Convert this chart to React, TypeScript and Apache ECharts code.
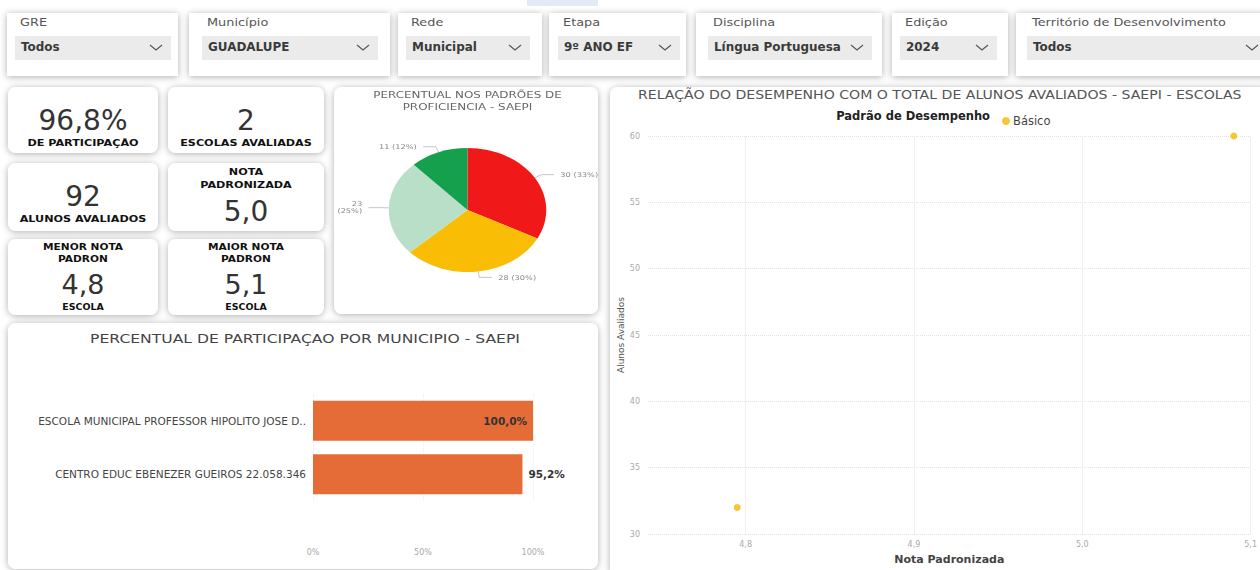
import React, { useEffect, useRef } from 'react';
import * as echarts from 'echarts';

// ---------- DATA ----------
const filterLabels = ['GRE', 'Município', 'Rede', 'Etapa', 'Disciplina', 'Edição', 'Território de Desenvolvimento'];
const filterValues = ['Todos', 'GUADALUPE', 'Municipal', '9º ANO EF', 'Língua Portuguesa', '2024', 'Todos'];

const kpiValues = ['96,8%', '2', '92', '5,0', '4,8', '5,1'];
const kpiHeaders = [[], [], [], ['NOTA', 'PADRONIZADA'], ['MENOR NOTA', 'PADRON'], ['MAIOR NOTA', 'PADRON']];
const kpiCaptions = ['DE PARTICIPAÇÃO', 'ESCOLAS AVALIADAS', 'ALUNOS AVALIADOS', '', 'ESCOLA', 'ESCOLA'];

const padroesNomes = ['Abaixo do Básico', 'Básico', 'Proficiente', 'Avançado'];
const padroesAlunos = [30, 28, 23, 11];
const padroesCores = ['#F01818', '#F9BD06', '#BADFC8', '#14A04C'];

const escolas = ['ESCOLA MUNICIPAL PROFESSOR HIPOLITO JOSE D..', 'CENTRO EDUC EBENEZER GUEIROS 22.058.346'];
const participacao = [100.0, 95.2];

const notaPadronizada = [4.795, 5.09];
const alunosAvaliados = [32, 60];
const notaTicks = [4.8, 4.9, 5.0, 5.1];

// ---------- LAYOUT (styles) ----------
const FONT = 'DejaVu Sans';
const filterLayout = [
  { x: 7, w: 171, bx: 15, bw: 156 },
  { x: 189, w: 201, bx: 202, bw: 176 },
  { x: 398, w: 144, bx: 406, bw: 124 },
  { x: 549, w: 137, bx: 558, bw: 122 },
  { x: 696, w: 186, bx: 708, bw: 164 },
  { x: 892, w: 116, bx: 900, bw: 97 },
  { x: 1016, w: 252, bx: 1027, bw: 240 },
];
const kpiLayout = [
  { x: 8, y: 87, w: 150, h: 66 },
  { x: 168, y: 87, w: 156, h: 66 },
  { x: 8, y: 163, w: 150, h: 68 },
  { x: 168, y: 163, w: 156, h: 68 },
  { x: 8, y: 239, w: 150, h: 76 },
  { x: 168, y: 239, w: 156, h: 76 },
];
const PIE_SCALE = 1.27;
const PIE_W = 300;
const PIE_CX = 150;

const shadowCard = (x: number, y: number, w: number, h: number, r = 8) => ({
  type: 'rect',
  shape: { x, y, width: w, height: h, r },
  style: { fill: '#ffffff', shadowBlur: 7, shadowColor: 'rgba(0,0,0,0.32)', shadowOffsetY: 1 },
  z: 0,
});
const txt = (
  text: string,
  x: number,
  y: number,
  size: number,
  fill: string,
  weight: any = 'normal',
  align = 'left',
  sx = 1
) => ({
  type: 'text',
  x,
  y,
  z: 5,
  scaleX: sx,
  style: { text, fill, fontSize: size, fontFamily: FONT, fontWeight: weight, align, verticalAlign: 'middle' },
});

function buildGraphics() {
  const g: any[] = [];
  g.push({ type: 'rect', shape: { x: 527, y: 0, width: 71, height: 6 }, style: { fill: '#E4EAF4' }, z: 0 });
  filterLayout.forEach((f, i) => {
    g.push(shadowCard(f.x, 13, f.w, 63, 0));
    g.push({ type: 'rect', shape: { x: f.bx, y: 36, width: f.bw, height: 24 }, style: { fill: '#EBEBEB' }, z: 1 });
    g.push(txt(filterLabels[i], f.bx + 5, 22, 11, '#555', 'normal', 'left', 1.17));
    g.push(txt(filterValues[i], f.bx + 6, 47, 11.5, '#3a3a3a', 'bold', 'left', 1.04));
    const cx = f.bx + f.bw - 15;
    g.push({
      type: 'polyline',
      z: 5,
      shape: { points: [[cx - 6, 45], [cx, 50], [cx + 6, 45]] },
      style: { stroke: '#555', lineWidth: 1.1, fill: 'none' },
    });
  });
  kpiLayout.forEach((k, i) => {
    g.push(shadowCard(k.x, k.y, k.w, k.h));
    const cx = k.x + k.w / 2;
    if (i < 3) {
      g.push(txt(kpiValues[i], cx, k.y + 33, 28, '#333', 'normal', 'center'));
      g.push(txt(kpiCaptions[i], cx, k.y + 55, 9.5, '#111', 'bold', 'center', 1.18));
    } else if (i === 3) {
      g.push(txt(kpiHeaders[i][0], cx, k.y + 8, 9.5, '#111', 'bold', 'center', 1.18));
      g.push(txt(kpiHeaders[i][1], cx, k.y + 21, 9.5, '#111', 'bold', 'center', 1.18));
      g.push(txt(kpiValues[i], cx, k.y + 48, 28, '#333', 'normal', 'center'));
    } else {
      g.push(txt(kpiHeaders[i][0], cx, k.y + 8, 9, '#111', 'bold', 'center', 1.18));
      g.push(txt(kpiHeaders[i][1], cx, k.y + 20, 9, '#111', 'bold', 'center', 1.18));
      g.push(txt(kpiValues[i], cx, k.y + 45, 27, '#333', 'normal', 'center'));
      g.push(txt(kpiCaptions[i], cx, k.y + 68, 8, '#111', 'bold', 'center', 1.18));
    }
  });
  // pie card
  g.push(shadowCard(334, 87, 264, 227));
  // bar card
  g.push(shadowCard(8, 323, 590, 246));
  g.push(txt('PERCENTUAL DE PARTICIPAÇAO POR MUNICIPIO - SAEPI', 305, 338, 13, '#454545', 'normal', 'center', 1.2));
  // scatter card
  g.push(shadowCard(610, 87, 660, 490));
  g.push(
    txt('RELAÇÃO DO DESEMPENHO COM O TOTAL DE ALUNOS AVALIADOS - SAEPI - ESCOLAS', 638, 95, 12, '#555', 'normal', 'left', 1.175)
  );
  g.push(txt('Padrão de Desempenho', 990, 116, 11.5, '#222', 'bold', 'right'));
  return g;
}

const fmtComma = (v: number, d = 1) => v.toFixed(d).replace('.', ',');

export default function App() {
  const mainRef = useRef<HTMLDivElement>(null);
  const pieRef = useRef<HTMLDivElement>(null);

  useEffect(() => {
    if (!mainRef.current || !pieRef.current) return;
    document.body.style.margin = '0';
    const chart = echarts.init(mainRef.current, undefined, { renderer: 'svg' });
    chart.setOption({
      animation: false,
      backgroundColor: '#ffffff',
      textStyle: { fontFamily: FONT },
      graphic: { elements: buildGraphics() },
      legend: {
        data: ['Básico'],
        left: 997,
        top: 110,
        icon: 'circle',
        itemWidth: 8,
        itemHeight: 8,
        itemGap: 4,
        textStyle: { fontSize: 11.5, color: '#444', fontFamily: FONT, padding: [0, 0, 0, -2] },
      },
      grid: [
        { left: 313, width: 220, top: 394, height: 107 },
        { left: 648, width: 609, top: 136, height: 400 },
      ],
      xAxis: [
        {
          gridIndex: 0,
          type: 'value',
          min: 0,
          max: 100,
          interval: 50,
          axisLabel: { formatter: '{value}%', margin: 47, fontSize: 8, color: '#aaa', fontFamily: FONT },
          axisLine: { show: false },
          axisTick: { show: false },
          splitLine: { lineStyle: { color: '#ececec', type: 'dotted' } },
        },
        {
          gridIndex: 1,
          type: 'value',
          min: 4.742,
          max: 5.1,
          axisLabel: {
            customValues: notaTicks,
            formatter: (v: number) => fmtComma(v),
            margin: 6,
            fontSize: 8,
            color: '#aaa',
            fontFamily: FONT,
          },
          axisTick: { show: false, customValues: notaTicks },
          axisLine: { show: false },
          splitLine: { show: true, lineStyle: { color: '#efefef' } },
          name: 'Nota Padronizada',
          nameLocation: 'middle',
          nameGap: 20,
          nameTextStyle: { fontSize: 11, color: '#444', fontWeight: 'bold', fontFamily: FONT },
        },
      ],
      yAxis: [
        {
          gridIndex: 0,
          type: 'category',
          data: escolas,
          inverse: true,
          axisLabel: { fontSize: 10.5, color: '#444', margin: 7, fontFamily: FONT },
          axisLine: { show: false },
          axisTick: { show: false },
        },
        {
          gridIndex: 1,
          type: 'value',
          min: 30,
          max: 60,
          interval: 5,
          axisLabel: { fontSize: 8, color: '#aaa', margin: 8, fontFamily: FONT },
          axisLine: { show: false },
          axisTick: { show: false },
          splitLine: { lineStyle: { color: '#e2e2e2', type: 'dotted' } },
          name: 'Alunos Avaliados',
          nameLocation: 'middle',
          nameGap: 20,
          nameRotate: 90,
          nameTextStyle: { fontSize: 9, color: '#555', fontFamily: FONT },
        },
      ],
      series: [
        {
          type: 'bar',
          name: 'Participação',
          xAxisIndex: 0,
          yAxisIndex: 0,
          barWidth: 40,
          itemStyle: { color: '#E66C37' },
          data: participacao.map((v) => ({ value: v, label: { position: v >= 98 ? 'insideRight' : 'right' } })),
          label: {
            show: true,
            formatter: (p: any) => fmtComma(p.value) + '%',
            fontSize: 10.5,
            fontWeight: 'bold',
            color: '#333',
            fontFamily: FONT,
            distance: 6,
          },
        },
        {
          type: 'scatter',
          name: 'Básico',
          xAxisIndex: 1,
          yAxisIndex: 1,
          symbolSize: 7,
          itemStyle: { color: '#F5B800' },
          data: notaPadronizada.map((x, i) => [x, alunosAvaliados[i]]),
        },
      ],
    });

    const pie = echarts.init(pieRef.current, undefined, { renderer: 'svg' });
    pie.setOption({
      animation: false,
      graphic: {
        elements: [
          txt('PERCENTUAL NOS PADRÕES DE', PIE_CX, 9, 9.4, '#666', 'normal', 'center'),
          txt('PROFICIENCIA - SAEPI', PIE_CX, 21, 9.4, '#666', 'normal', 'center'),
        ],
      },
      series: [
        {
          type: 'pie',
          center: [PIE_CX, 124],
          radius: 62,
          startAngle: 90,
          clockwise: true,
          percentPrecision: 0,
          color: padroesCores,
          itemStyle: { borderWidth: 0 },
          label: {
            formatter: (p: any) => (p.dataIndex === 2 ? `${p.value}\n(${p.percent}%)` : `${p.value} (${p.percent}%)`),
            fontSize: 6.5,
            color: '#888',
            fontFamily: FONT,
            lineHeight: 7,
          },
          labelLine: { length: 6, length2: 10, lineStyle: { color: '#aaa', width: 0.6 } },
          data: padroesNomes.map((n, i) => ({ name: n, value: padroesAlunos[i] })),
        },
      ],
    });

    return () => {
      chart.dispose();
      pie.dispose();
    };
  }, []);

  return (
    <div style={{ position: 'absolute', left: 0, top: 0, width: 1260, height: 570, overflow: 'hidden' }}>
      <div ref={mainRef} style={{ position: 'absolute', left: 0, top: 0, width: 1260, height: 570 }} />
      <div
        ref={pieRef}
        style={{
          position: 'absolute',
          left: 467 - PIE_CX * PIE_SCALE,
          top: 86,
          width: PIE_W,
          height: 228,
          transform: `scaleX(${PIE_SCALE})`,
          transformOrigin: '0 0',
        }}
      />
    </div>
  );
}
